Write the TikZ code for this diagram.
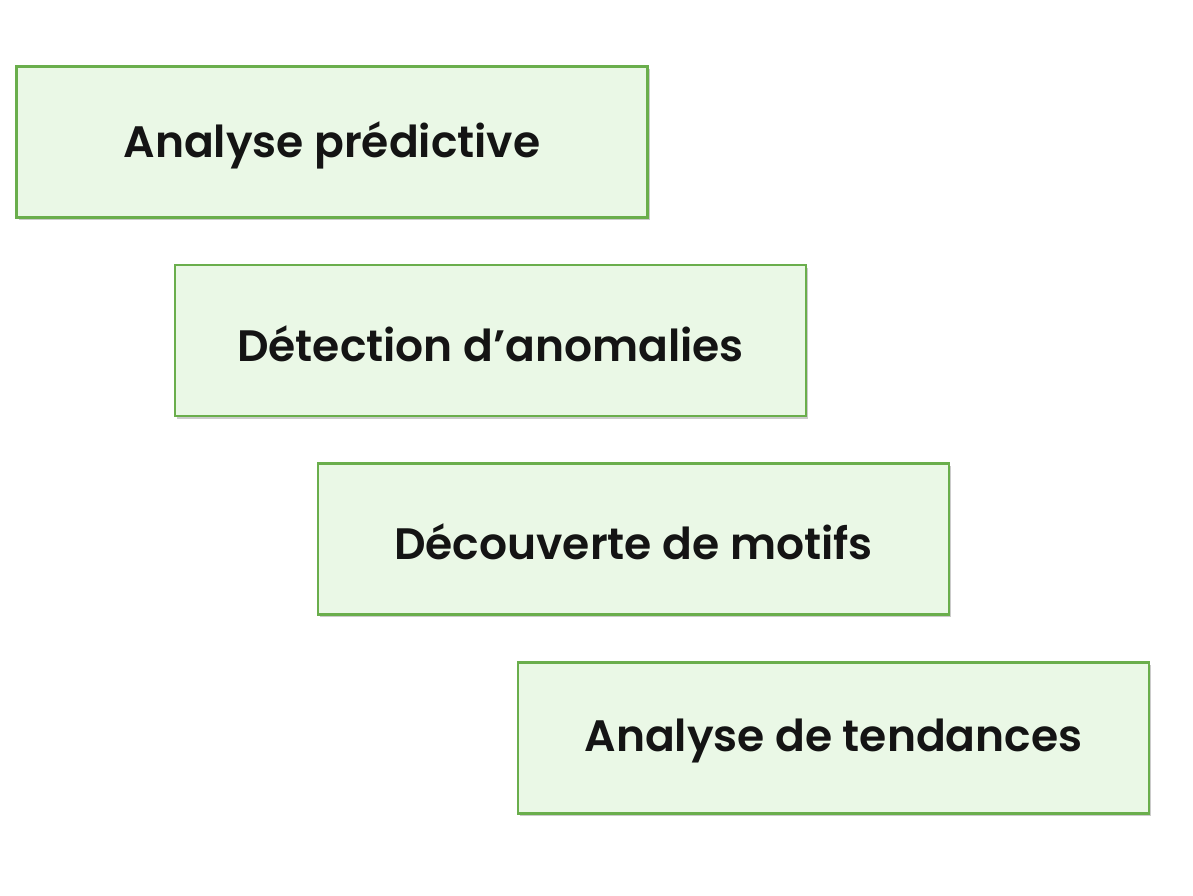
\documentclass[tikz,border=0pt]{standalone}
\usepackage{fontspec}
\setmainfont{Poppins}[UprightFont=* SemiBold]
\usetikzlibrary{shadows}
\definecolor{boxfill}{HTML}{EAF8E6}
\definecolor{boxline}{HTML}{6AAE4C}
\definecolor{txt}{HTML}{141414}
\begin{document}
\begin{tikzpicture}[x=1pt,y=-1pt,
  card/.style={draw=boxline, line width=2.4pt, fill=boxfill, minimum width=631pt, minimum height=151pt, inner sep=0pt,
    drop shadow={shadow xshift=2pt, shadow yshift=-2.5pt, fill=black!40, opacity=0.5}},
  lbl/.style={font=\fontsize{44}{52}\selectfont, text=txt, inner sep=0pt}]
\useasboundingbox[fill=white] (0,0) rectangle (1193,896);
\node[card] (a) at (332,142) {};
\node[card] (b) at (490.5,340.5) {};
\node[card] (c) at (633.5,539) {};
\node[card] (d) at (833.5,738) {};
\node[lbl] (ta) at ([yshift=-3pt]a.center) {Analyse prédictive};
\node[lbl] (tb) at ([yshift=-3pt]b.center) {Détection d’anomalies};
\node[lbl] (tc) at ([yshift=-3pt]c.center) {Découverte de motifs};
\node[lbl] (td) at ([yshift=-3pt]d.center) {Analyse de tendances};
\end{tikzpicture}
\end{document}
